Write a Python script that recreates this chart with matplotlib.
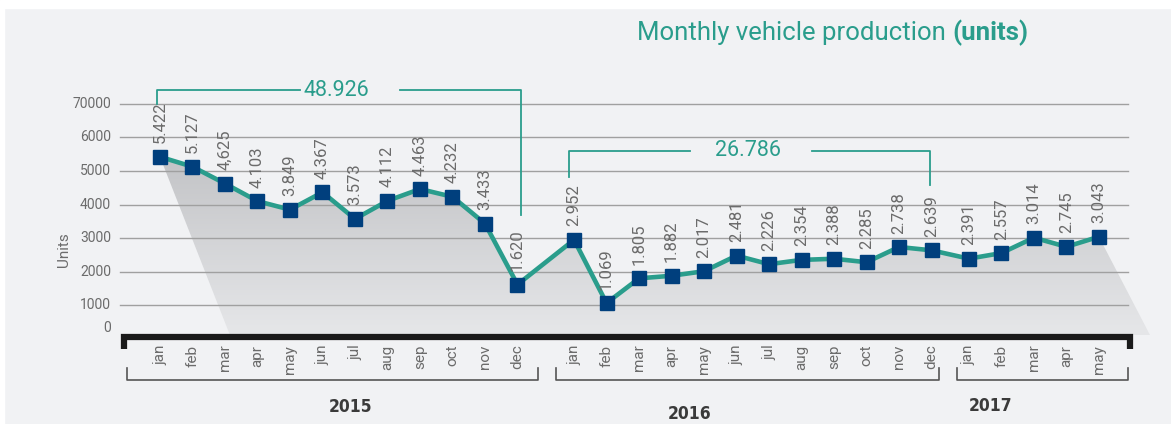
import numpy as np
import matplotlib.pyplot as plt
from matplotlib.patches import Polygon, Rectangle
from matplotlib.colors import LinearSegmentedColormap

# data
years = ['2015', '2016', '2017']
months_per_year = [12, 12, 5]
month_names = ['jan', 'feb', 'mar', 'apr', 'may', 'jun', 'jul', 'aug', 'sep', 'oct', 'nov', 'dec']
units = [5422, 5127, 4625, 4103, 3849, 4367, 3573, 4112, 4463, 4232, 3433, 1620,
         2952, 1069, 1805, 1882, 2017, 2481, 2226, 2354, 2388, 2285, 2738, 2639,
         2391, 2557, 3014, 2745, 3043]
value_labels = ['5.422', '5.127', '4,625', '4.103', '3.849', '4.367', '3.573', '4.112', '4.463', '4.232', '3.433', '1.620',
                '2.952', '1.069', '1.805', '1.882', '2.017', '2.481', '2.226', '2.354', '2.388', '2.285', '2.738', '2.639',
                '2.391', '2.557', '3.014', '2.745', '3.043']
ytick_values = [0, 1000, 2000, 3000, 4000, 5000, 6000, 7000]
ytick_labels = ['0', '1000', '2000', '3000', '4000', '5000', '6000', '70000']
total_2015 = '48.926'
total_2016 = '26.786'

TEAL = '#2a9d8c'
NAVY = '#003f7d'
GRAY = '#6b6b6b'
BG = '#f1f2f4'
FONT = ['Roboto', 'DejaVu Sans']

# x positions: months with a small gap between years
group_start = [0, 12.74, 24.89]
xs = []
for start, n in zip(group_start, months_per_year):
    xs += [start + i for i in range(n)]
xs = np.array(xs)
ys = np.array(units)

fig = plt.figure(figsize=(11.71, 4.24), dpi=100, facecolor=BG)
ax = fig.add_axes([0, 0, 1, 1])
ax.set_facecolor(BG)
ax.set_xlim(-4.923, 31.108)
ax.set_ylim(-2530, 10089)
ax.axis('off')

# white strips at the top and left edge
fig.patches.append(Rectangle((0, 1 - 8 / 424), 1, 8 / 424, transform=fig.transFigure, color='white', zorder=0))
fig.patches.append(Rectangle((0, 0), 4 / 1171, 1, transform=fig.transFigure, color='white', zorder=0))

# shadow under the line
shadow_pts = list(zip(xs, ys)) + [(30.46, 120), (2.15, 120)]
poly = Polygon(shadow_pts, closed=True, facecolor='none', edgecolor='none')
ax.add_patch(poly)
grad = np.linspace(0, 1, 256).reshape(-1, 1)
cmap = LinearSegmentedColormap.from_list('sh', ['#e6e7e9', '#c2c3c6'])
im = ax.imshow(grad, extent=[0, 31, 120, 5500], origin='lower', aspect='auto', cmap=cmap, zorder=1)
im.set_clip_path(poly)

# gridlines
for v in ytick_values[1:]:
    ax.plot([-1.23, 29.78], [v, v], color='#a0a0a0', lw=1, zorder=2)
for v, lab in zip(ytick_values, ytick_labels):
    yy = v if v > 0 else 320
    ax.text(-1.5, yy, lab, ha='right', va='center', fontsize=10, color=GRAY, family=FONT)
ax.text(-2.95, 2650, 'Units', rotation=90, ha='center', va='center', fontsize=11, color=GRAY, family=FONT)

# line and markers
ax.plot(xs, ys, color=TEAL, lw=3.3, zorder=3, solid_joinstyle='miter')
ax.plot(xs, ys, ls='none', marker='s', ms=9.5, color=NAVY, zorder=4)
for x, y, lab in zip(xs, ys, value_labels):
    ax.text(x, y + 400, lab, rotation=90, ha='center', va='bottom', fontsize=12, color=GRAY, family=FONT, zorder=5)

# black axis bar
ax.plot([-1.108, -1.108, 29.85, 29.85], [-300, 45, 45, -300], color='#1a1a1a', lw=4.5,
        solid_joinstyle='miter', solid_capstyle='butt', zorder=5)

# month labels
i = 0
for n in months_per_year:
    for m in range(n):
        ax.text(xs[i], -170, month_names[m], rotation=90, ha='center', va='top', fontsize=11, color=GRAY, family=FONT)
        i += 1

# year brackets
brackets = [(-1.015, 11.63), (12.2, 23.97), (24.52, 29.78)]
year_label_pos = [(5.85, -2030), (16.3, -2220), (25.55, -1990)]
for (a, b), (tx, ty), yr in zip(brackets, year_label_pos, years):
    ax.plot([a, a, b, b], [-860, -1210, -1210, -860], color='#555555', lw=1.2)
    ax.text(tx, ty, yr, ha='center', va='center', fontsize=12.5, fontweight='bold', color='#3a3a3a',
            family='DejaVu Sans', fontstretch='condensed')

# totals brackets
ax.plot([-0.09, -0.09, 4.31], [6990, 7410, 7410], color=TEAL, lw=1.3)
ax.plot([7.38, 11.1, 11.1], [7410, 7410, 3690], color=TEAL, lw=1.3)
ax.text(5.42, 7410, total_2015, ha='center', va='center', fontsize=15.5, color=TEAL, family=FONT)
ax.plot([12.58, 12.58, 16.3], [4820, 5595, 5595], color=TEAL, lw=1.3)
ax.plot([20.06, 23.69, 23.69], [5595, 5595, 4580], color=TEAL, lw=1.3)
ax.text(18.09, 5595, total_2016, ha='center', va='center', fontsize=15.5, color=TEAL, family=FONT)

# title
t = ax.text(14.68, 9100, 'Monthly vehicle production ', ha='left', va='center', fontsize=18.5,
            color=TEAL, family=FONT)
fig.canvas.draw()
bb = t.get_window_extent()
x_end = ax.transData.inverted().transform((bb.x1, bb.y0))[0]
ax.text(x_end, 9100, '(units)', ha='left', va='center', fontsize=18.5, color=TEAL, family=FONT, fontweight='bold')

fig.savefig('out.png', dpi=100, facecolor=fig.get_facecolor())
